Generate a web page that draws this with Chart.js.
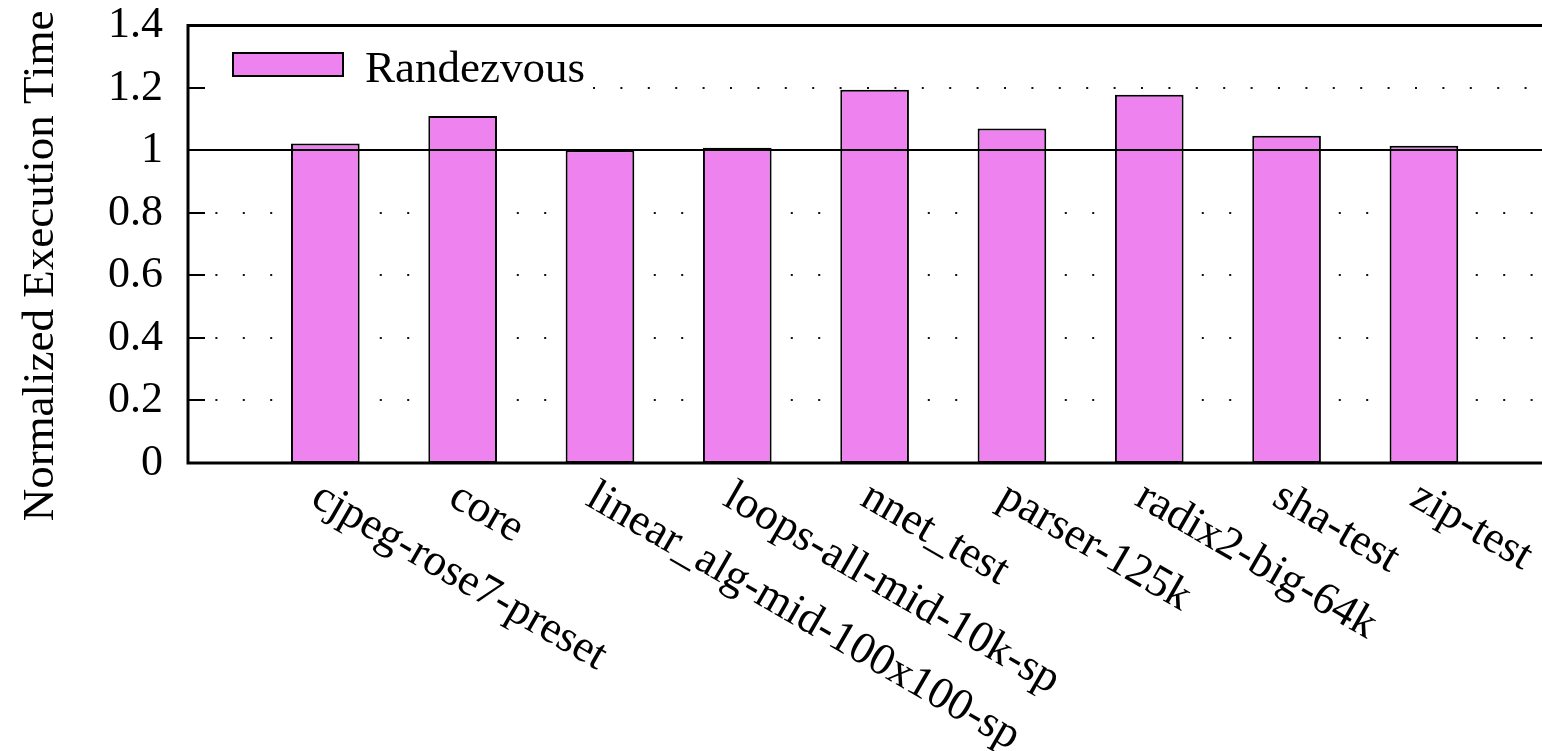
<!DOCTYPE html>
<html>
<head>
<meta charset="utf-8">
<script src="https://cdn.jsdelivr.net/npm/chart.js@4/dist/chart.umd.min.js"></script>
<style>
  html, body { margin: 0; padding: 0; background: #fff; }
  canvas { display: block; }
</style>
</head>
<body>
<canvas id="c" width="1542" height="751"></canvas>
<script>
// Benchmarks and normalized execution time of each one
const benchmarks = [
  'cjpeg-rose7-preset', 'core', 'linear_alg-mid-100x100-sp', 'loops-all-mid-10k-sp',
  'nnet_test', 'parser-125k', 'radix2-big-64k', 'sha-test', 'zip-test'
];
const randezvous = [1.022, 1.110, 1.001, 1.009, 1.194, 1.070, 1.178, 1.047, 1.015];
const yTicks = [0, 0.2, 0.4, 0.6, 0.8, 1, 1.2, 1.4];
const yTickLabels = ['0', '0.2', '0.4', '0.6', '0.8', '1', '1.2', '1.4'];
const seriesName = 'Randezvous';
const yTitle = 'Normalized Execution Time';
const baseline = 1;

const FONT = '"Liberation Serif", "Times New Roman", serif';
const FONT_SIZE = 45;
const TICK_FONT_SIZE = 44;
const BAR_FILL = '#EE82EE';
const KEY = { boxX: 233, boxY: 53, boxW: 110, boxH: 23, textX: 365, textY: 82, right: 593, bottom: 100 };

Chart.defaults.font.family = FONT;
Chart.defaults.color = '#000';

// Frame, dotted grid, baseline, key and rotated category labels
const framePlugin = {
  id: 'frame',
  beforeDatasetsDraw(chart) {
    const { ctx, chartArea: a, scales: { y } } = chart;
    ctx.save();
    ctx.strokeStyle = '#111';
    ctx.lineWidth = 2;
    ctx.lineCap = 'butt';
    ctx.setLineDash([2, 25.4]);
    yTicks.forEach(v => {
      if (v === 0 || v === y.max || v === baseline) return;
      const py = Math.round(y.getPixelForValue(v));
      const x0 = (py > a.top && py < KEY.bottom) ? KEY.right : a.left;
      ctx.beginPath();
      ctx.moveTo(x0, py);
      ctx.lineTo(a.right, py);
      ctx.stroke();
    });
    ctx.restore();
  },
  afterDatasetsDraw(chart) {
    const { ctx, chartArea: a, scales: { x, y } } = chart;
    ctx.save();

    // key
    ctx.fillStyle = '#fff';
    ctx.fillRect(a.left + 2, a.top + 2, KEY.right - a.left - 2, KEY.bottom - a.top - 2);
    ctx.fillStyle = BAR_FILL;
    ctx.fillRect(KEY.boxX, KEY.boxY, KEY.boxW, KEY.boxH);
    ctx.strokeStyle = '#000';
    ctx.lineWidth = 2;
    ctx.strokeRect(KEY.boxX, KEY.boxY, KEY.boxW, KEY.boxH);
    ctx.fillStyle = '#000';
    ctx.font = FONT_SIZE + 'px ' + FONT;
    ctx.textAlign = 'left';
    ctx.textBaseline = 'alphabetic';
    ctx.fillText(seriesName, KEY.textX, KEY.textY);

    // reference line at 1
    const by = Math.round(y.getPixelForValue(baseline));
    ctx.lineWidth = 2;
    ctx.beginPath();
    ctx.moveTo(a.left, by);
    ctx.lineTo(a.right, by);
    ctx.stroke();

    // inward tick marks on the left axis
    yTicks.forEach(v => {
      if (v === 0 || v === y.max) return;
      const py = Math.round(y.getPixelForValue(v));
      ctx.beginPath();
      ctx.moveTo(a.left, py);
      ctx.lineTo(a.left + 17, py);
      ctx.stroke();
    });

    // border: left, bottom, top
    ctx.lineWidth = 3;
    ctx.beginPath();
    ctx.moveTo(a.right, a.top);
    ctx.lineTo(a.left, a.top);
    ctx.lineTo(a.left, a.bottom);
    ctx.lineTo(a.right, a.bottom);
    ctx.stroke();

    // rotated category labels
    ctx.font = FONT_SIZE + 'px ' + FONT;
    ctx.textAlign = 'left';
    ctx.textBaseline = 'alphabetic';
    benchmarks.forEach((name, i) => {
      const px = x.getPixelForValue(i);
      ctx.save();
      ctx.translate(px - 16, a.bottom + 41);
      ctx.rotate(Math.PI / 6);
      ctx.fillText(name, 0, 0);
      ctx.restore();
    });

    // y axis title
    ctx.save();
    ctx.translate(53, 266);
    ctx.rotate(-Math.PI / 2);
    ctx.textAlign = 'center';
    ctx.fillText(yTitle, 0, 0);
    ctx.restore();

    ctx.restore();
  }
};

new Chart(document.getElementById('c'), {
  type: 'bar',
  data: {
    datasets: [{
      label: seriesName,
      data: randezvous.map((v, i) => ({ x: i, y: v })),
      backgroundColor: BAR_FILL,
      borderColor: '#000',
      borderWidth: 2,
      borderSkipped: false,
      barPercentage: 0.5,
      categoryPercentage: 1
    }]
  },
  options: {
    responsive: false,
    devicePixelRatio: 1,
    animation: false,
    layout: { padding: { top: 21, right: 0, bottom: 288, left: 0 } },
    plugins: { legend: { display: false }, tooltip: { enabled: false } },
    scales: {
      x: {
        type: 'linear',
        display: false,
        min: -1,
        max: 8.86,
        offset: false,
        afterBuildTicks: s => { s.ticks = benchmarks.map((b, i) => ({ value: i })); }
      },
      y: {
        min: 0,
        max: 1.4,
        grid: { display: false, drawTicks: false },
        border: { display: false },
        afterFit: s => { s.width = 188; },
        afterBuildTicks: s => { s.ticks = yTicks.map(v => ({ value: v })); },
        ticks: {
          padding: 25,
          font: { size: TICK_FONT_SIZE, lineHeight: 0.02 },
          color: '#000',
          callback: (v, i) => yTickLabels[i]
        }
      }
    }
  },
  plugins: [framePlugin]
});
</script>
</body>
</html>
